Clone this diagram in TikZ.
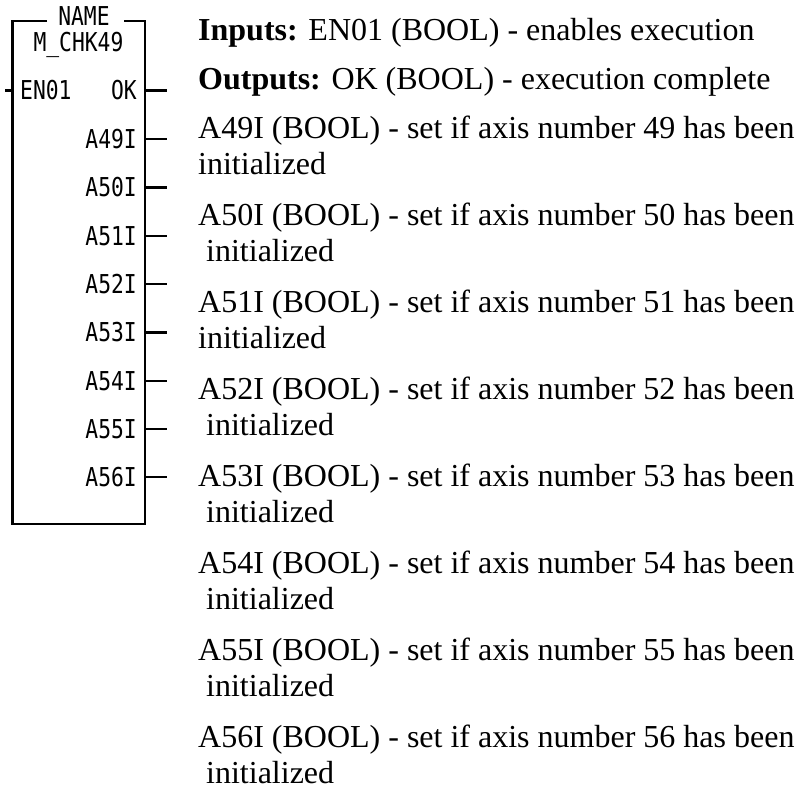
\documentclass[tikz,border=0pt]{standalone}
\usepackage{fontspec}
\setmainfont{Liberation Serif}
\newfontfamily\blkfont[FakeStretch=0.82]{DejaVu Sans Mono}
\begin{document}
\begin{tikzpicture}[x=1pt,y=-1pt,
  blk/.style={font=\blkfont\fontsize{26}{30}\selectfont, inner sep=0pt},
  desc/.style={font=\fontsize{32}{36}\selectfont, inner sep=0pt, anchor=base west},
  wire/.style={line width=2.2pt},
  outline/.style={line width=2.4pt}]
\useasboundingbox (0,0) rectangle (798,796);
% block
\coordinate (tl) at (12.5,21);
\coordinate (br) at (145,524);
\coordinate (gapL) at (47,21);
\coordinate (gapR) at (124,21);
\draw[outline] (gapL) -- (tl) -- (tl |- br) -- (br) -- (br |- tl) -- (gapR);
\node[blk, anchor=base] (name) at (84,25.5) {NAME};
\node[blk, anchor=base] (fname) at (78.5,51.5) {M\_CHK49};
% input
\node[blk, anchor=west] (en) at (20,90.5) {EN01};
\coordinate (enw) at (5,90.5);
\draw[wire] (enw) -- (tl |- en);
% outputs
\foreach \lab/\yy [count=\i] in {OK/90.5, A49I/139, A50I/187.5, A51I/236, A52I/284, A53I/332.5, A54I/381, A55I/429, A56I/477}{
  \node[blk, anchor=east] (o\i) at (137,\yy) {\lab};
  \coordinate (w\i) at (167,\yy);
  \draw[wire] (br |- o\i) -- (w\i);
}
% description
\node[desc] (t1) at (198,40) {\textbf{Inputs:} EN01 (BOOL) - enables execution};
\node[desc] (t2) at (198,89) {\textbf{Outputs:} OK (BOOL) - execution complete};
\foreach \n/\ind [count=\k from 0] in {49/0, 50/8, 51/0, 52/8, 53/8, 54/8, 55/8, 56/8}{
  \pgfmathsetmacro\yb{138+87*\k}
  \pgfmathsetmacro\yi{138+87*\k+36.5}
  \node[desc] (a\n) at (198,\yb) {A\n I (BOOL) - set if axis number \n\ has been};
  \node[desc] (i\n) at (198+\ind,\yi) {initialized};
}
\end{tikzpicture}
\end{document}
